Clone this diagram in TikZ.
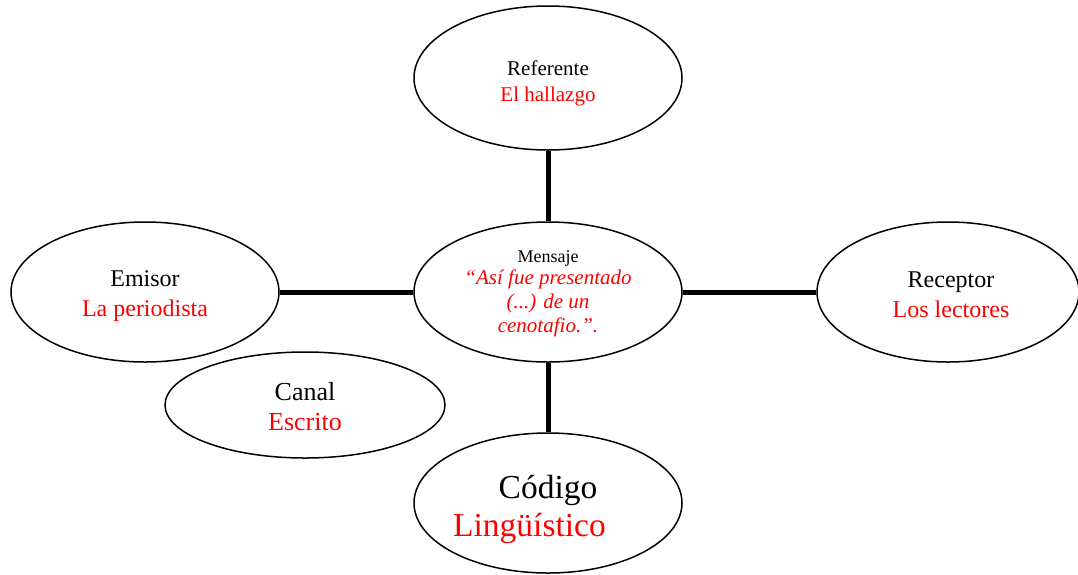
\documentclass[tikz,border=0pt]{standalone}
\usepackage{fontspec}
\setmainfont{Liberation Serif}
\usetikzlibrary{shapes.geometric}
\begin{document}
\begin{tikzpicture}[
		x=1pt, y=-1pt,
		bubble/.style={ellipse, draw, line width=1.5pt, inner sep=0pt,
				minimum width=268pt, minimum height=140pt},
		words/.style={inner sep=0pt, align=center},
		link/.style={line width=5pt}
	]
	\useasboundingbox (0,0) rectangle (1078,574);
	% the six bubbles
	\node[bubble, minimum height=144pt] (referente) at (548,78) {};
	\node[bubble] (mensaje) at (548,292) {};
	\node[bubble] (emisor) at (145,292) {};
	\node[bubble, minimum width=262pt] (receptor) at (948,292) {};
	\node[bubble, minimum width=280pt, minimum height=106pt] (canal) at (305,405) {};
	\node[bubble] (codigo) at (548,503) {};
	% their texts
	\node[words, font=\fontsize{21}{26}\selectfont] (referente-txt) at (548,83)
		{Referente\\ \textcolor{red}{El hallazgo}};
	\node[words, font=\fontsize{21}{24}\selectfont] (mensaje-txt) at (548,294)
		{{\fontsize{18}{24}\selectfont Mensaje}\\[-2pt]
			\textcolor{red}{\itshape “Así fue presentado}\\
			\textcolor{red}{\itshape (...) de un}\\
			\textcolor{red}{\itshape cenotafio.”.}};
	\node[words, font=\fontsize{24}{30}\selectfont] (emisor-txt) at (145,296)
		{Emisor\\ \textcolor{red}{La periodista}};
	\node[words, font=\fontsize{24}{30}\selectfont] (receptor-txt) at (951,295)
		{Receptor\\ \textcolor{red}{Los lectores}};
	\node[words, font=\fontsize{26}{30}\selectfont] (canal-txt) at (305,407)
		{Canal\\ \textcolor{red}{Escrito}};
	\node[words, font=\fontsize{33.5}{38}\selectfont] (codigo-txt) at (548,509)
		{Código\\ \textcolor{red}{Lingüístico}\rule{37pt}{0pt}};
	% connectors
	\draw[link] (referente) -- (mensaje);
	\draw[link] (emisor) -- (mensaje);
	\draw[link] (mensaje) -- (receptor);
	\draw[link] (mensaje) -- (codigo);
\end{tikzpicture}
\end{document}
